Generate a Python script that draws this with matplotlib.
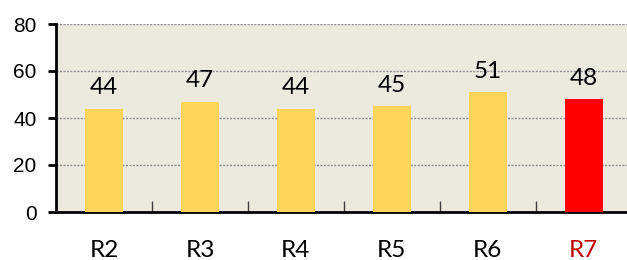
import matplotlib
matplotlib.use("Agg")
from matplotlib import pyplot

categories = ["R2", "R3", "R4", "R5", "R6", "R7"]
values = [44, 47, 44, 45, 51, 48]
bar_colors = ["#FFD65A", "#FFD65A", "#FFD65A", "#FFD65A", "#FFD65A", "#FF0000"]
label_colors = ["black", "black", "black", "black", "black", "#C00000"]
y_ticks = [0, 20, 40, 60, 80]

fig = pyplot.figure(figsize=(6.27, 2.6), dpi=100, facecolor="w")
ax = fig.add_axes([56 / 627, 48 / 260, 1 - 56 / 627, 188 / 260])
ax.set_facecolor("#ECE9DF")

x = list(range(len(categories)))
ax.bar(x, values, width=0.4, color=bar_colors, zorder=3)
for i, v in enumerate(values):
    ax.text(i, v + 4.5, "{}".format(v), ha="center", va="bottom",
            fontsize=17.5, family="Lato", color="black")

ax.set_ylim(0, 80)
ax.set_xlim(-0.5, 5.45)
ax.set_yticks(y_ticks)
ax.set_yticklabels([str(t) for t in y_ticks], fontsize=15, family="Liberation Sans")
ax.yaxis.grid(True, linestyle=(0, (1.5, 1)), color="#909090", linewidth=1, zorder=0)
ax.tick_params(axis="y", direction="out", length=6, width=2, pad=8)

# category boundary ticks on the bottom axis, labels at centres
ax.set_xticks([i + 0.5 for i in range(len(categories) - 1)])
ax.set_xticklabels([])
ax.set_xticks(x, minor=True)
ax.set_xticklabels(categories, minor=True, fontsize=17.5, family="Lato")
ax.tick_params(axis="x", which="major", direction="in", length=8, width=1, color="#404040")
ax.tick_params(axis="x", which="minor", length=0, pad=20)
for lbl, c in zip(ax.get_xticklabels(minor=True), label_colors):
    lbl.set_color(c)

ax.spines["left"].set_linewidth(2)
ax.spines["bottom"].set_linewidth(2)
ax.spines["right"].set_visible(False)
ax.spines["top"].set_visible(False)

pyplot.savefig("out.png", dpi=100)
